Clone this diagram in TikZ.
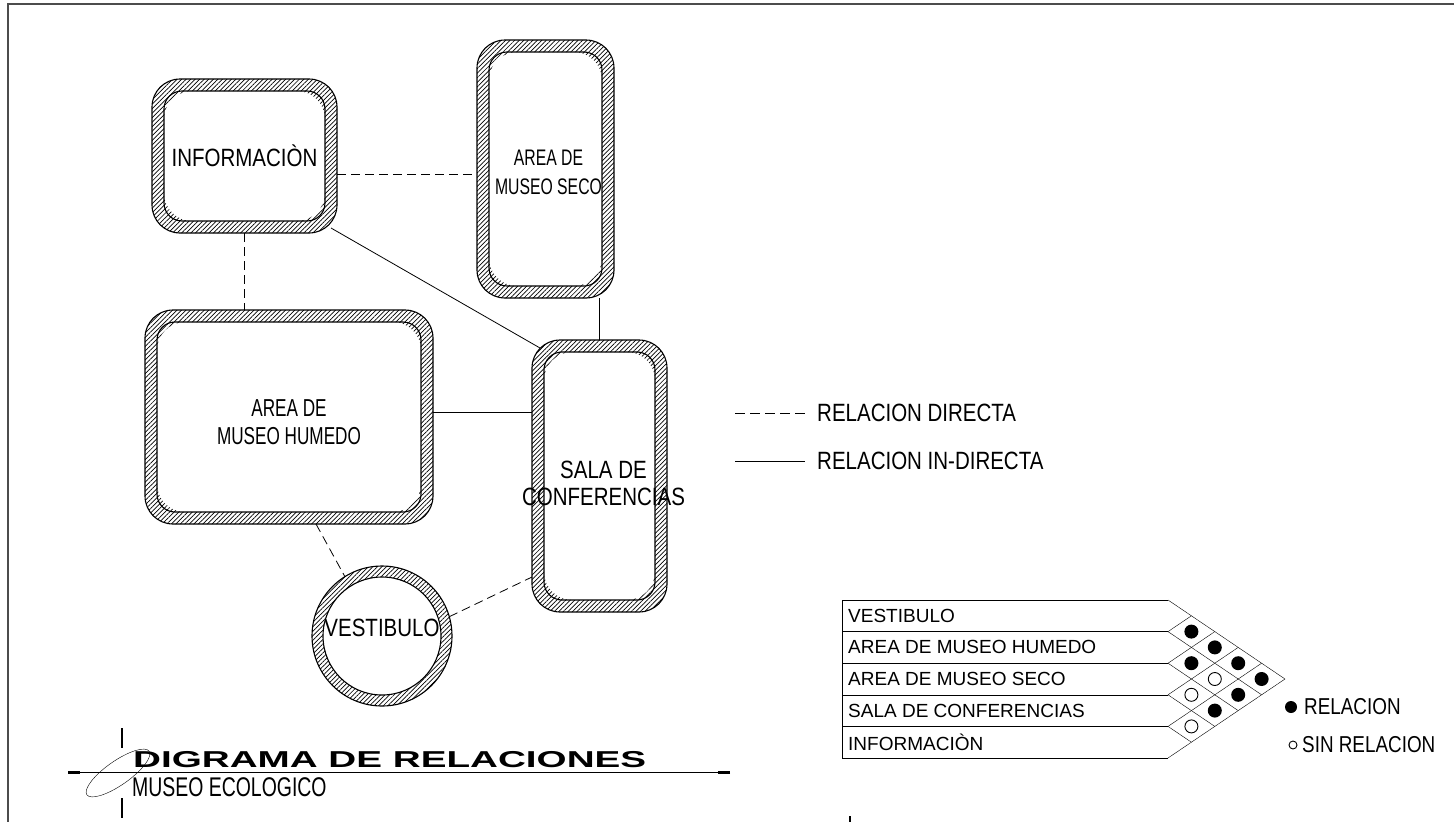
\documentclass[tikz,border=0pt]{standalone}
\usepackage{graphicx}
\usepackage{fontspec}
\setmainfont{Liberation Sans}
\newfontfamily\cadfont[FakeStretch=0.82]{Liberation Sans}
\newfontfamily\cadnarrow[FakeStretch=0.7]{Liberation Sans}
\usetikzlibrary{patterns.meta}

\pgfdeclarelayer{walls}
\pgfsetlayers{walls,main}

\newcommand{\cadsize}[2]{\cadfont\fontsize{#1}{#2}\selectfont}
\newcommand{\narrowsize}[2]{\cadnarrow\fontsize{#1}{#2}\selectfont}

\tikzset{
  room/.style={rectangle, inner sep=0pt, outer sep=0pt},
  roomtext/.style={inner sep=0pt, align=center, font=\cadsize{25}{29}},
  wall/.style={pattern={Lines[angle=45, distance=3.2pt, line width=0.7pt]}, even odd rule},
  directa/.style={dash pattern=on 9pt off 5pt, line width=0.8pt},
  indirecta/.style={line width=0.8pt},
  rowlabel/.style={anchor=west, inner sep=0pt, font=\fontsize{19}{19}\selectfont},
  keytext/.style={anchor=west, inner sep=0pt, font=\cadsize{25}{25}},
}

% hatched wall round a room node
\newcommand{\hatchroom}[1]{%
  \begin{pgfonlayer}{walls}
    \fill[wall, rounded corners=28pt] (#1.south west) rectangle (#1.north east)
      ([xshift=12pt,yshift=12pt]#1.south west) rectangle ([xshift=-12pt,yshift=-12pt]#1.north east);
    \draw[line width=1.1pt, rounded corners=28pt] (#1.south west) rectangle (#1.north east);
    \draw[line width=1.1pt, rounded corners=18pt] ([xshift=12pt,yshift=12pt]#1.south west) rectangle ([xshift=-12pt,yshift=-12pt]#1.north east);
  \end{pgfonlayer}}

\begin{document}
\begin{tikzpicture}[x=1pt, y=-1pt]
  \useasboundingbox (0,0) rectangle (1454,822);
  \draw[gray!60!black, line width=1.5pt] (8,822) -- (8,4) -- (1454,4);

  % rooms
  \node[room, minimum width=185pt, minimum height=154pt,
    label={[roomtext]center:INFORMACIÒN}] (info) at (244.5,156) {};
  \node[room, minimum width=137pt, minimum height=258pt,
    label={[roomtext, font=\narrowsize{22.5}{29}, xshift=3pt, yshift=-3pt]center:AREA DE\\MUSEO SECO}] (seco) at (545.5,169) {};
  \node[room, minimum width=288pt, minimum height=214pt,
    label={[roomtext, font=\narrowsize{24.5}{28}, yshift=-5pt]center:AREA DE\\MUSEO HUMEDO}] (hum) at (289,417) {};
  \node[room, minimum width=135pt, minimum height=272pt,
    label={[roomtext, font=\cadsize{25}{27}, xshift=4pt, yshift=-7pt]center:SALA DE\\CONFERENCIAS}] (sala) at (599.5,476) {};
  \node[room, circle, minimum size=140pt,
    label={[roomtext, yshift=8pt]center:VESTIBULO}] (vest) at (382,636) {};
  \hatchroom{info}
  \hatchroom{seco}
  \hatchroom{hum}
  \hatchroom{sala}
  \begin{pgfonlayer}{walls}
    \fill[wall] (vest.center) circle (70pt) (vest.center) circle (59pt);
    \draw[line width=1.1pt] (vest.center) circle (70pt) (vest.center) circle (59pt);
  \end{pgfonlayer}

  % relations
  \draw[directa] ([yshift=-18pt]info.east) -- ([yshift=-18pt]info.east -| seco.west);
  \draw[directa] (info.south) -- (info.south |- hum.north);
  \draw[indirecta] ([xshift=-6pt,yshift=5pt]info.south east) -- ([xshift=8pt,yshift=-8pt]sala.north west);
  \draw[indirecta] (sala.north |- seco.south) -- (sala.north);
  \draw[indirecta] ([yshift=5pt]hum.east) -- ([yshift=5pt]hum.east -| sala.west);
  \draw[directa] ([xshift=27pt]hum.south) -- (vest.122);
  \draw[directa] (vest.16) -- ([yshift=-101pt]sala.west);

  % legend
  \coordinate (d1) at (735,413);
  \coordinate (d2) at (805,413);
  \coordinate (i1) at (735,461);
  \coordinate (i2) at (805,461);
  \draw[directa, dash pattern=on 10pt off 5pt] (d1) -- (d2);
  \draw[indirecta] (i1) -- (i2);
  \node[keytext] (ldir) at (817,413) {RELACION DIRECTA};
  \node[keytext] (lind) at (817,461) {RELACION IN-DIRECTA};

  % matrix
  \foreach \lab [count=\i from 0] in {VESTIBULO,AREA DE MUSEO HUMEDO,AREA DE MUSEO SECO,SALA DE CONFERENCIAS,INFORMACIÒN}
    \node[rowlabel] (row\i) at (848,{615.8+31.6*\i}) {\lab};
  \foreach \j in {0,...,5}
    \draw (842,{600+31.6*\j}) -- (1168,{600+31.6*\j});
  \draw (842,600) -- (842,758);
  \foreach \j in {0,...,4}
    \draw (1168,{600+31.6*\j}) -- ++({23.4*(5-\j)},{15.8*(5-\j)});
  \foreach \j in {1,...,5}
    \draw (1168,{600+31.6*\j}) -- ++({23.4*\j},{-15.8*\j});
  \foreach \a/\b in {0/1,1/2,0/2,0/3,0/4,1/4,2/4}
    \fill ({1168+23.4*(\b-\a)},{615.8+15.8*(\a+\b)}) circle (7pt);
  \foreach \a/\b in {2/3,3/4,1/3}
    \draw[line width=0.9pt] ({1168+23.4*(\b-\a)},{615.8+15.8*(\a+\b)}) circle (6.5pt);

  \fill (1291,707) circle (6pt);
  \node[keytext, font=\cadsize{23}{23}] (krel) at (1304,707) {RELACION};
  \draw[line width=0.9pt] (1293,745) circle (4pt);
  \node[keytext, font=\cadsize{23}{23}] (ksin) at (1302,745) {SIN RELACION};

  % title block
  \node[anchor=west, inner sep=0pt, font=\bfseries\fontsize{23}{23}\selectfont] (title) at (133,760) {\scalebox{1.68}[1]{DIGRAMA DE RELACIONES}};
  \node[anchor=west, inner sep=0pt, font=\fontsize{27}{27}\selectfont] (sub) at (132,787) {\scalebox{0.72}[1]{MUSEO ECOLOGICO}};
  \coordinate (tl) at (68,772);
  \coordinate (tr) at (730,772);
  \draw[line width=0.8pt] (tl) -- (tr);
  \draw[line width=3pt] (tl) -- ++(12,0);
  \draw[line width=3pt] (tr) -- ++(-12,0);
  \draw[line width=1.2pt] (122,728) -- (122,748);
  \draw[line width=1.2pt] (122,798) -- (122,818);
  \draw[rotate around={35:(118,773)}] (118,773) ellipse (38pt and 12pt);
  \draw[line width=2pt] (850,816) -- (850,822);
\end{tikzpicture}
\end{document}
